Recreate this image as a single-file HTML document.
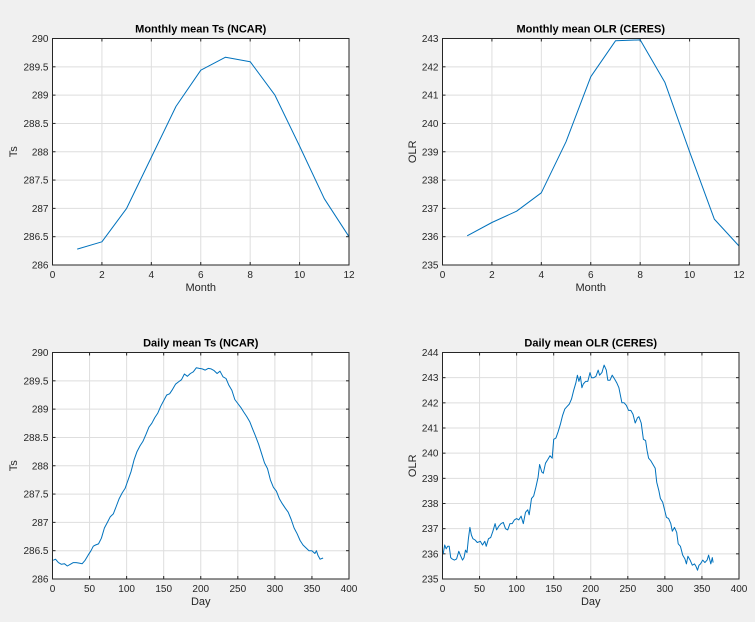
<!DOCTYPE html>
<html><head><meta charset="utf-8"><style>
html,body{margin:0;padding:0;background:#f0f0f0;}
svg{display:block;font-family:"Liberation Sans",Arial,sans-serif;}
</style></head><body>
<svg id="s" width="755" height="622" viewBox="0 0 755 622" xmlns="http://www.w3.org/2000/svg"></svg>
<script>
const S=document.getElementById('s');let h='';
function ax(o){
 const {x0,x1,y0,y1,xmin,xmax,ymin,ymax,xt,yt,title,xl,yl,data,ylx}=o;
 const X=v=>x0+(v-xmin)/(xmax-xmin)*(x1-x0), Y=v=>y1-(v-ymin)/(ymax-ymin)*(y1-y0);
 h+=`<rect x="${x0}" y="${y0}" width="${x1-x0}" height="${y1-y0}" fill="#fff"/>`;
 xt.forEach(t=>{const x=X(t);h+=`<line x1="${x}" x2="${x}" y1="${y0}" y2="${y1}" stroke="#dedede" stroke-width="1"/><line x1="${x}" x2="${x}" y1="${y1}" y2="${y1-3}" stroke="#262626"/><line x1="${x}" x2="${x}" y1="${y0}" y2="${y0+3}" stroke="#262626"/><text x="${x}" y="${y1+13}" font-size="10" fill="#262626" text-anchor="middle">${t}</text>`;});
 yt.forEach(t=>{const y=Y(t);h+=`<line x1="${x0}" x2="${x1}" y1="${y}" y2="${y}" stroke="#dedede" stroke-width="1"/><line x1="${x0}" x2="${x0+3}" y1="${y}" y2="${y}" stroke="#262626"/><line x1="${x1}" x2="${x1-3}" y1="${y}" y2="${y}" stroke="#262626"/><text x="${x0-4}" y="${y+3.5}" font-size="10" fill="#262626" text-anchor="end">${t}</text>`;});
 h+=`<polyline fill="none" stroke="#0072bd" stroke-width="1" stroke-linejoin="round" points="${data.map(p=>X(p[0]).toFixed(1)+','+Y(p[1]).toFixed(1)).join(' ')}"/>`;
 h+=`<rect x="${x0}" y="${y0}" width="${x1-x0}" height="${y1-y0}" fill="none" stroke="#262626" stroke-width="1"/>`;
 h+=`<text x="${(x0+x1)/2}" y="${y0-6}" font-size="11" font-weight="bold" fill="#000" text-anchor="middle">${title}</text>`;
 h+=`<text x="${(x0+x1)/2}" y="${y1+26}" font-size="11" fill="#262626" text-anchor="middle">${xl}</text>`;
 h+=`<text transform="translate(${ylx},${(y0+y1)/2}) rotate(-90)" font-size="11" fill="#262626" text-anchor="middle">${yl}</text>`;
}
const m=(a)=>a.map((v,i)=>[i+1,v]);
const pr=a=>{const r=[];for(let i=0;i<a.length;i+=2)r.push([a[i],a[i+1]]);return r;};
ax({x0:52.5,x1:349,y0:38.5,y1:265,xmin:0,xmax:12,ymin:286,ymax:290,xt:[0,2,4,6,8,10,12],yt:[286,286.5,287,287.5,288,288.5,289,289.5,290],title:"Monthly mean Ts (NCAR)",xl:"Month",yl:"Ts",ylx:17,
data:m([286.28,286.41,287.0,287.9,288.8,289.44,289.67,289.59,289.0,288.1,287.17,286.5])});
ax({x0:442.5,x1:739,y0:38.5,y1:265,xmin:0,xmax:12,ymin:235,ymax:243,xt:[0,2,4,6,8,10,12],yt:[235,236,237,238,239,240,241,242,243],title:"Monthly mean OLR (CERES)",xl:"Month",yl:"OLR",ylx:416,
data:m([236.03,236.5,236.9,237.55,239.35,241.65,242.92,242.95,241.45,239.0,236.62,235.67])});
ax({x0:52.5,x1:349,y0:352.5,y1:579,xmin:0,xmax:400,ymin:286,ymax:290,xt:[0,50,100,150,200,250,300,350,400],yt:[286,286.5,287,287.5,288,288.5,289,289.5,290],title:"Daily mean Ts (NCAR)",xl:"Day",yl:"Ts",ylx:17,
data:pr([1,286.33,4,286.35,8,286.29,12,286.26,16,286.27,20,286.23,24,286.26,28,286.29,32,286.29,36,286.28,40,286.27,44,286.33,48,286.42,52,286.5,55,286.58,58,286.6,62,286.62,66,286.72,70,286.9,74,287.0,78,287.1,82,287.15,86,287.28,90,287.42,94,287.52,98,287.6,102,287.75,106,287.9,110,288.1,114,288.25,118,288.35,122,288.43,126,288.55,130,288.68,134,288.75,138,288.85,142,288.93,146,289.05,150,289.15,154,289.25,158,289.27,162,289.35,166,289.44,170,289.48,174,289.52,178,289.62,182,289.58,186,289.63,190,289.66,194,289.73,198,289.72,202,289.71,206,289.69,210,289.72,214,289.71,218,289.68,222,289.63,226,289.67,230,289.57,234,289.54,238,289.42,242,289.33,246,289.17,250,289.1,254,289.03,258,288.95,262,288.87,266,288.78,270,288.65,274,288.52,278,288.38,282,288.22,286,288.05,290,287.95,294,287.75,298,287.62,302,287.55,306,287.42,310,287.33,314,287.25,318,287.18,322,287.05,326,286.9,330,286.8,334,286.68,338,286.6,342,286.55,346,286.5,350,286.5,354,286.45,356,286.5,358,286.42,361,286.35,365,286.37])});
ax({x0:442.5,x1:739,y0:352.5,y1:579,xmin:0,xmax:400,ymin:235,ymax:244,xt:[0,50,100,150,200,250,300,350,400],yt:[235,236,237,238,239,240,241,242,243,244],title:"Daily mean OLR (CERES)",xl:"Day",yl:"OLR",ylx:416,
data:pr([1,236.0,3,236.35,5,236.2,7,236.3,9,236.3,11,235.85,13,235.8,16,235.75,19,235.8,22,236.1,24,235.95,27,235.75,29,235.85,31,236.15,33,236.05,35,236.6,37,237.05,39,236.75,41,236.6,44,236.55,47,236.45,51,236.5,54,236.35,57,236.5,59,236.3,62,236.6,65,236.65,68,236.9,71,237.2,73,236.95,76,237.1,79,237.2,82,237.25,85,237.0,88,236.95,91,237.2,94,237.2,97,237.35,100,237.4,103,237.35,106,237.5,109,237.2,112,237.65,115,237.75,117,237.55,120,238.2,123,238.3,126,238.65,129,239.05,131,239.55,134,239.25,136,239.2,139,239.6,142,239.75,145,239.9,148,239.8,150,240.55,153,240.6,156,240.85,159,241.15,162,241.5,165,241.75,168,241.85,171,241.95,174,242.15,177,242.5,180,242.8,182,243.1,184,242.85,186,243.05,188,242.6,190,242.75,193,242.85,196,242.85,199,243.2,201,243.0,204,243.0,207,243.05,210,243.3,212,243.1,215,243.2,218,243.5,221,243.3,223,242.9,226,242.9,229,243.1,232,242.95,235,242.8,238,242.6,240,242.3,242,242.0,245,242.0,248,241.9,251,241.7,254,241.7,257,241.55,260,241.2,263,241.4,265,241.45,268,241.2,271,240.55,274,240.5,276,240.1,278,239.8,281,239.7,284,239.55,287,239.4,289,238.85,292,238.5,294,238.2,297,238.05,300,237.7,302,237.45,305,237.4,308,237.2,310,236.9,313,237.05,316,236.85,318,236.4,321,236.3,324,235.95,327,235.8,329,235.6,331,235.9,334,235.75,337,235.55,340,235.6,342,235.5,344,235.35,346,235.55,348,235.6,351,235.75,354,235.65,357,235.75,359,235.95,362,235.6,364,235.85,365,235.65])});
S.innerHTML=h;
</script>
</body></html>
